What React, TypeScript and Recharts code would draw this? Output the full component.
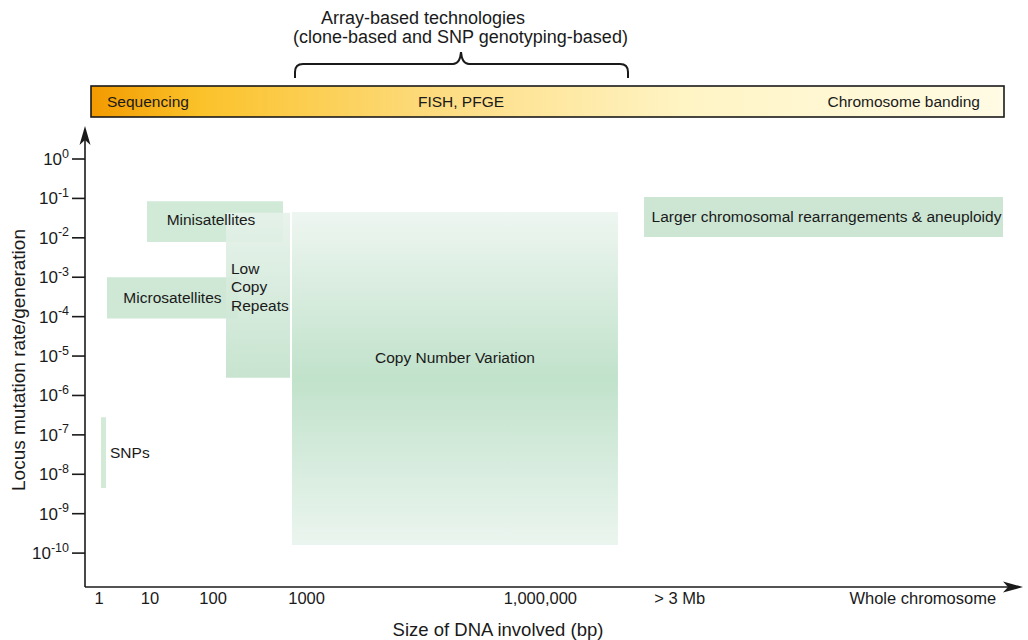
import React from "react";
import { ComposedChart, XAxis, YAxis, ReferenceArea } from "recharts";

// y ticks: locus mutation rate per generation (log scale)
const rateTicks = [1, 1e-1, 1e-2, 1e-3, 1e-4, 1e-5, 1e-6, 1e-7, 1e-8, 1e-9, 1e-10];

// x axis is schematic (not a true scale), positions in arbitrary units 0..100
const sizeTickPos = [1.5, 6.95, 13.7, 23.7, 48.7, 63.6, 89.6];
const sizeTickLabels = ["1", "10", "100", "1000", "1,000,000", "> 3 Mb", "Whole chromosome"];

// variation classes
const regionNames = [
  "SNPs",
  "Microsatellites",
  "Minisatellites",
  "Low Copy Repeats",
  "Copy Number Variation",
  "Larger chromosomal rearrangements & aneuploidy",
];
const regionSizeFrom = [1.71, 2.35, 6.63, 15.08, 22.14, 59.79];
const regionSizeTo = [2.25, 16.36, 21.18, 21.93, 57.0, 98.18];
const regionRateHigh = [2.8e-7, 1.0e-3, 8.5e-2, 4.3e-2, 4.5e-2, 1.09e-1];
const regionRateLow = [4.5e-9, 9e-5, 7.8e-3, 2.8e-6, 1.6e-10, 1.05e-2];

const FONT = "'Liberation Sans', Arial, sans-serif";
const INK = "#1a1a1a";
const regionFills = ["#d3ead9", "#cfe7d5", "#d1e9d7", "url(#lcrGrad)", "url(#cnvGrad)", "#cde6d4"];

const RateTick = (props: any) => {
  const { x, y, payload } = props;
  const exp = Math.round(Math.log10(payload.value));
  return (
    <text x={x} y={y + 6} textAnchor="end" fill={INK} fontFamily={FONT} fontSize={17}>
      10
      <tspan dy={-7.5} fontSize={12.5}>{exp}</tspan>
    </text>
  );
};

const regionLabel = (i: number) => (p: any) => {
  const vb = p.viewBox || {};
  const name = regionNames[i];
  const common = { fill: INK, fontFamily: FONT, fontSize: 15.5 } as const;
  if (i === 0) {
    return (
      <text x={vb.x + vb.width + 4} y={vb.y + vb.height / 2} dominantBaseline="central" {...common}>
        {name}
      </text>
    );
  }
  if (i === 3) {
    const words = ["Low", "Copy", "Repeats"];
    return (
      <text {...common}>
        {words.map((w, k) => (
          <tspan key={w} x={vb.x + 5} y={vb.y + 61 + k * 18.5}>{w}</tspan>
        ))}
      </text>
    );
  }
  const dx = i === 2 ? -4 : i === 5 ? 3 : 0;
  const dy = i === 4 ? 145 - vb.height / 2 : i === 2 ? -2 : 0;
  return (
    <text
      x={vb.x + vb.width / 2 + dx}
      y={vb.y + vb.height / 2 + dy}
      textAnchor="middle"
      dominantBaseline="central"
      {...common}
    >
      {name}
    </text>
  );
};

export default function App() {
  return (
    <div style={{ position: "absolute", left: 0, top: 0, width: 1028, height: 640, background: "#fff" }}>
      <svg width={1028} height={640} style={{ position: "absolute", left: 0, top: 0 }}>
        <defs>
          <linearGradient id="barGrad" x1="0" y1="0" x2="1" y2="0">
            <stop offset="0%" stopColor="#f29a00" />
            <stop offset="12%" stopColor="#fbc22a" />
            <stop offset="40%" stopColor="#fdde86" />
            <stop offset="65%" stopColor="#fff4c4" />
            <stop offset="100%" stopColor="#fffbe4" />
          </linearGradient>
          <linearGradient id="cnvGrad" x1="0" y1="0" x2="0" y2="1">
            <stop offset="0%" stopColor="#eef6f1" />
            <stop offset="50%" stopColor="#c1e2cb" />
            <stop offset="100%" stopColor="#ebf5ef" />
          </linearGradient>
          <linearGradient id="lcrGrad" x1="0" y1="0" x2="0" y2="1">
            <stop offset="0%" stopColor="#e6f2ea" />
            <stop offset="100%" stopColor="#c3e2cc" />
          </linearGradient>
        </defs>
      </svg>

      <div style={{ position: "absolute", left: 0, top: 0 }}>
        <ComposedChart width={1028} height={640} margin={{ top: 133, right: 8, bottom: 23, left: 25 }}>
          <XAxis
            type="number"
            dataKey="x"
            domain={[0, 100]}
            allowDataOverflow
            ticks={sizeTickPos}
            interval={0}
            tickFormatter={(_v: number, i: number) => sizeTickLabels[i]}
            tick={{ fill: INK, fontFamily: FONT, fontSize: 16.5 }}
            tickLine={false}
            tickSize={0}
            tickMargin={5}
            height={30}
            axisLine={{ stroke: INK, strokeWidth: 1.6 }}
            label={{
              value: "Size of DNA involved (bp)",
              content: () => (
                <text x={498} y={636} textAnchor="middle" fill={INK} fontFamily={FONT} fontSize={18.5}>
                  Size of DNA involved (bp)
                </text>
              ),
            }}
          />
          <YAxis
            type="number"
            scale="log"
            domain={[1.38e-11, 4.57]}
            allowDataOverflow
            ticks={rateTicks}
            interval={0}
            width={60}
            tick={<RateTick />}
            tickSize={13}
            tickMargin={3}
            tickLine={{ stroke: INK, strokeWidth: 1.6 }}
            axisLine={{ stroke: INK, strokeWidth: 1.6 }}
            label={{
              value: "Locus mutation rate/generation",
              content: () => (
                <text
                  x={25}
                  y={360}
                  transform="rotate(-90 25 360)"
                  textAnchor="middle"
                  fill={INK}
                  fontFamily={FONT}
                  fontSize={19}
                >
                  Locus mutation rate/generation
                </text>
              ),
            }}
          />
          {regionNames.map((n, i) => (
            <ReferenceArea
              key={"a" + n}
              x1={regionSizeFrom[i]}
              x2={regionSizeTo[i]}
              y1={regionRateLow[i]}
              y2={regionRateHigh[i]}
              fill={regionFills[i]}
              fillOpacity={i === 3 ? 0.92 : 1}
              stroke="none"
              ifOverflow="visible"
            />
          ))}
          {regionNames.map((n, i) => (
            <ReferenceArea
              key={"l" + n}
              x1={regionSizeFrom[i]}
              x2={regionSizeTo[i]}
              y1={regionRateLow[i]}
              y2={regionRateHigh[i]}
              fill="none"
              fillOpacity={0}
              stroke="none"
              ifOverflow="visible"
              label={regionLabel(i)}
            />
          ))}
        </ComposedChart>
      </div>

      <svg width={1028} height={640} style={{ position: "absolute", left: 0, top: 0, pointerEvents: "none" }}>
        {/* method bar */}
        <rect x={91} y={86} width={913} height={31} fill="url(#barGrad)" stroke={INK} strokeWidth={1.6} />
        <g fill={INK} fontFamily={FONT} fontSize={15.5}>
          <text x={107} y={107}>Sequencing</text>
          <text x={461} y={107} textAnchor="middle">FISH, PFGE</text>
          <text x={980} y={107} textAnchor="end">Chromosome banding</text>
        </g>
        {/* array bracket */}
        <g fill={INK} fontFamily={FONT} fontSize={18}>
          <text x={321} y={24}>Array-based technologies</text>
          <text x={293} y={43}>(clone-based and SNP genotyping-based)</text>
        </g>
        <path
          d="M295,78 L295,72 Q295,64 303,64 L453,64 Q460,64 461,52 Q462,64 469,64 L620,64 Q628,64 628,72 L628,78"
          fill="none"
          stroke={INK}
          strokeWidth={2}
        />
        {/* axis arrow heads */}
        <path d="M85,126 L90.5,145 L85,140 L79.5,145 Z" fill={INK} />
        <path d="M1023,587 L1003,581.5 L1008,587 L1003,592.5 Z" fill={INK} />
      </svg>
    </div>
  );
}
